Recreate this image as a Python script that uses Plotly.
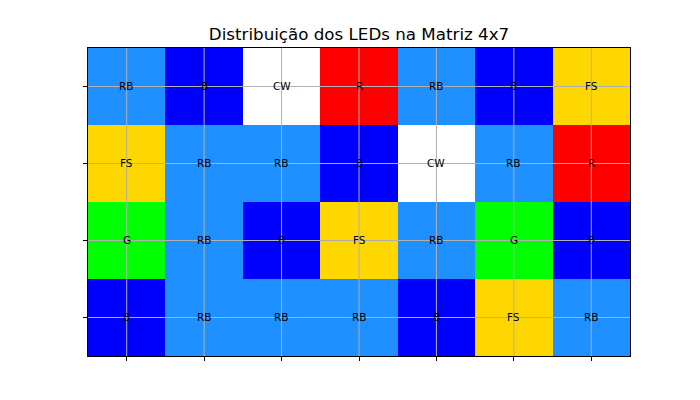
import plotly.graph_objects as go

cols = list(range(7))
rows = list(range(4))
led_types = ["RB", "B", "CW", "R", "FS", "G"]
type_colors = ["#1E90FF", "#0000FF", "#FFFFFF", "#FF0000", "#FFD700", "#00FF00"]
matrix = [
    ["RB", "B", "CW", "R", "RB", "B", "FS"],
    ["FS", "RB", "RB", "B", "CW", "RB", "R"],
    ["G", "RB", "B", "FS", "RB", "G", "B"],
    ["B", "RB", "RB", "RB", "B", "FS", "RB"],
]
title = "Distribuição dos LEDs na Matriz 4x7"

z = [[led_types.index(v) for v in row] for row in matrix]
n = len(led_types)
colorscale = []
for i, c in enumerate(type_colors):
    colorscale.append([i / n, c])
    colorscale.append([(i + 1) / n, c])

fig = go.Figure(go.Heatmap(
    z=z, x=cols, y=rows,
    colorscale=colorscale, zmin=-0.5, zmax=n - 0.5, showscale=False,
    hoverinfo="skip", xgap=0, ygap=0,
))

annotations = []
for r in rows:
    for c in cols:
        annotations.append(dict(x=c, y=r, xref="x", yref="y", text=matrix[r][c],
                                showarrow=False, yshift=1,
                                font=dict(size=10.5, color="black", family="DejaVu Sans")))

shapes = []
for c in cols:
    shapes.append(dict(type="line", xref="x", yref="y domain", x0=c, x1=c, y0=0, y1=1,
                       line=dict(color="#b0b0b0", width=1), layer="above"))
for r in rows:
    shapes.append(dict(type="line", xref="x domain", yref="y", x0=0, x1=1, y0=r, y1=r,
                       line=dict(color="#b0b0b0", width=1), layer="above"))

fig.update_layout(
    width=700, height=400,
    margin=dict(l=88, r=70, t=48, b=44),
    paper_bgcolor="white", plot_bgcolor="white",
    font=dict(family="DejaVu Sans", color="black"),
    title=dict(text=title, x=(88 + 630) / 2 / 700, xanchor="center", y=1 - 34 / 400,
               yanchor="middle", font=dict(size=16.7, color="black")),
    shapes=shapes,
    annotations=annotations,
)
fig.update_xaxes(range=[-0.5, len(cols) - 0.5], tickvals=cols, showticklabels=False,
                 ticks="outside", ticklen=4, tickcolor="black", showgrid=False,
                 showline=True, mirror=True, linecolor="black", linewidth=1, zeroline=False)
fig.update_yaxes(range=[len(rows) - 0.5, -0.5], tickvals=rows, showticklabels=False,
                 ticks="outside", ticklen=4, tickcolor="black", showgrid=False,
                 showline=True, mirror=True, linecolor="black", linewidth=1, zeroline=False)

fig.write_html("out.html")
